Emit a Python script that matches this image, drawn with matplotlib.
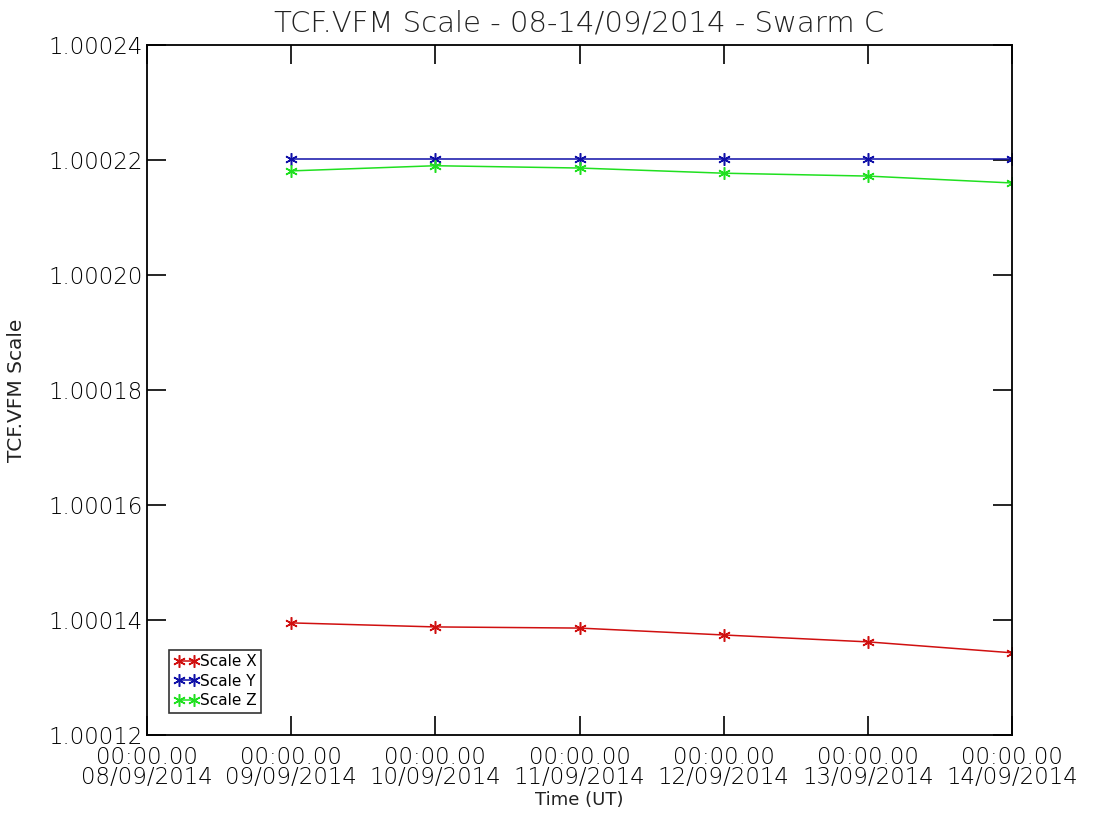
import datetime as dt
import matplotlib
matplotlib.use("Agg")
import matplotlib.pyplot as plt
import matplotlib.dates as mdates

# daily TCF.VFM scale values, Swarm C
days = [dt.datetime(2014, 9, d) for d in range(9, 15)]
scale_x = [1.0001395, 1.0001388, 1.0001386, 1.0001374, 1.0001362, 1.0001343]
scale_y = [1.0002202, 1.0002202, 1.0002202, 1.0002202, 1.0002202, 1.0002202]
scale_z = [1.0002181, 1.0002190, 1.0002186, 1.0002177, 1.0002172, 1.0002160]

series = [("Scale X", scale_x, "#d01010"),
          ("Scale Y", scale_y, "#1010a8"),
          ("Scale Z", scale_z, "#20e020")]

plt.rcParams["font.family"] = ["DejaVu Sans"]
txt = "#222222"

fig = plt.figure(figsize=(10.96, 8.22), dpi=100)
ax = fig.add_axes([0.1341, 0.1058, 0.7893, 0.8395])

star = (6, 2, 0)
for name, vals, col in series:
    ax.plot(days, vals, color=col, lw=1.1, marker=star, ms=9, mew=1.1,
            label=name)

ax.set_xlim(dt.datetime(2014, 9, 8), dt.datetime(2014, 9, 14))
ax.set_ylim(1.00012, 1.00024)
ax.set_yticks([1.00012, 1.00014, 1.00016, 1.00018, 1.00020, 1.00022, 1.00024])
ax.yaxis.set_major_formatter(plt.FuncFormatter(lambda v, p: "%.5f" % v))
ax.xaxis.set_major_locator(mdates.DayLocator())
ax.xaxis.set_major_formatter(mdates.DateFormatter("%H:%M.%S\n%d/%m/%Y"))

ax.tick_params(direction="in", length=14, width=1.2, top=True, right=True,
               labelsize=16.5, colors="black", labelcolor="black")
ax.tick_params(axis="x", pad=8)
ax.tick_params(axis="y", pad=3)
for s in ax.spines.values():
    s.set_linewidth(1.3)
for lab in ax.get_xticklabels():
    lab.set_linespacing(0.8)
    lab.set_fontweight("light")
for lab in ax.get_yticklabels():
    lab.set_fontweight("light")

ax.set_title("TCF.VFM Scale - 08-14/09/2014 - Swarm C", fontsize=21,
             color=txt, pad=10, fontweight="light")
ax.set_xlabel("Time (UT)", fontsize=13, color=txt, labelpad=2)
ax.set_ylabel("TCF.VFM Scale", fontsize=14.5, color=txt, labelpad=16)

leg = ax.legend(loc="lower left", bbox_to_anchor=(0.026, 0.032), numpoints=2,
                fontsize=11, frameon=True, fancybox=False, borderpad=0.3,
                labelspacing=0.3, handlelength=1.6, handletextpad=0.1,
                borderaxespad=0)
leg.get_frame().set_edgecolor("black")
leg.get_frame().set_linewidth(1.2)

fig.savefig("out.png", dpi=100)
